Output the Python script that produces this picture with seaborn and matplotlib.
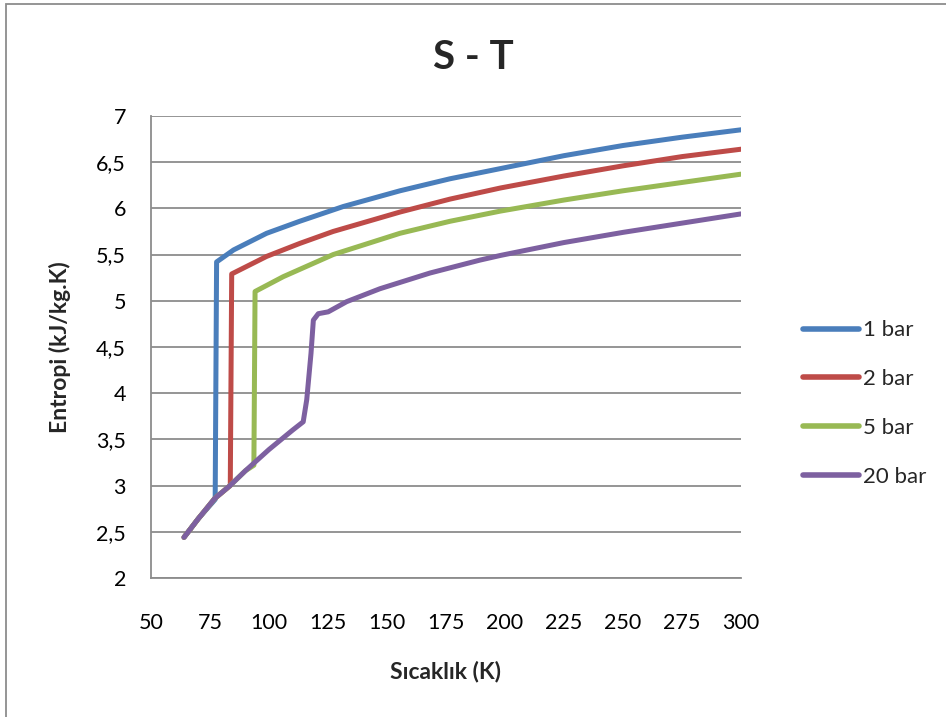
import matplotlib
matplotlib.use("Agg")
import matplotlib.pyplot as plt
import seaborn as sns
import pandas as pd
from matplotlib.ticker import FuncFormatter
from matplotlib.patches import Rectangle

# ---- data ----
series_names = ["1 bar", "2 bar", "5 bar", "20 bar"]

t_1bar = [64, 70, 77.2, 77.8, 85, 99, 113, 131.5, 155.5, 176.7, 198, 225, 250, 275, 300]
s_1bar = [2.44, 2.64, 2.85, 5.42, 5.55, 5.73, 5.86, 6.02, 6.19, 6.32, 6.43, 6.57, 6.68, 6.77, 6.85]

t_2bar = [64, 70, 77, 83.6, 84.2, 99, 113, 127.2, 155.5, 176.7, 198, 225, 250, 275, 300]
s_2bar = [2.44, 2.64, 2.86, 3.00, 5.29, 5.48, 5.62, 5.75, 5.96, 6.10, 6.22, 6.35, 6.46, 6.56, 6.64]

t_5bar = [64, 70, 77, 83.5, 90, 93.6, 94.1, 106, 127.2, 155.5, 176.7, 198, 225, 250, 275, 300]
s_5bar = [2.44, 2.64, 2.86, 3.00, 3.16, 3.22, 5.10, 5.26, 5.50, 5.73, 5.86, 5.97, 6.09, 6.19, 6.28, 6.37]

t_20bar = [64, 70, 77, 83.5, 90, 100, 110, 114.5, 116, 117.8, 118.8, 120.9, 125.1, 132.9, 147, 168.2, 189.4, 198, 225, 250, 275, 300]
s_20bar = [2.44, 2.64, 2.86, 3.00, 3.16, 3.39, 3.60, 3.69, 3.93, 4.43, 4.79, 4.86, 4.88, 4.99, 5.13, 5.30, 5.44, 5.49, 5.63, 5.74, 5.84, 5.94]

x_ticks = [50, 75, 100, 125, 150, 175, 200, 225, 250, 275, 300]
y_ticks = [2, 2.5, 3, 3.5, 4, 4.5, 5, 5.5, 6, 6.5, 7]

colors = ["#4A7EBB", "#BE4B48", "#98B954", "#7D60A0"]

frames = []
for name, t, s in zip(series_names, [t_1bar, t_2bar, t_5bar, t_20bar],
                      [s_1bar, s_2bar, s_5bar, s_20bar]):
    d = pd.DataFrame({"T": t, "S": s})
    d["Seri"] = name
    frames.append(d)
df = pd.concat(frames, ignore_index=True)

sns.set_style("white")
plt.rcParams["font.family"] = ["Lato", "DejaVu Sans"]

fig = plt.figure(figsize=(9.46, 7.17), dpi=100)
ax = fig.add_axes([0.1596, 0.1939, 0.6237, 0.6444])

sns.lineplot(data=df, x="T", y="S", hue="Seri", hue_order=series_names,
             palette=colors, sort=False, estimator=None,
             linewidth=3.6, ax=ax, legend=True)
for ln in ax.lines:
    ln.set_solid_capstyle("round")
    ln.set_solid_joinstyle("round")

ax.set_xlim(50, 300)
ax.set_ylim(2, 7)
ax.set_xticks(x_ticks)
ax.set_yticks(y_ticks)
ax.yaxis.set_major_formatter(FuncFormatter(lambda v, p: ("%g" % v).replace(".", ",")))
ax.tick_params(axis="both", length=0, labelsize=15.5, colors="black")
ax.tick_params(axis="x", pad=25)
ax.tick_params(axis="y", pad=18)

ax.grid(axis="y", color="#8C8C8C", linewidth=1.3)
ax.grid(axis="x", visible=False)
ax.set_axisbelow(True)
for side in ["top", "right"]:
    ax.spines[side].set_visible(False)
for side in ["left", "bottom"]:
    ax.spines[side].set_color("#8C8C8C")
    ax.spines[side].set_linewidth(1.3)

ax.set_xlabel("Sıcaklık (K)", fontsize=16.5, fontweight="bold", labelpad=20)
ax.set_ylabel("Entropi (kJ/kg.K)", fontsize=16.5, fontweight="bold", labelpad=18)
fig.text(0.5, 0.92, "S - T", ha="center", va="center", fontsize=29, fontweight="bold")

handles, labels = ax.get_legend_handles_labels()
ax.legend(handles, labels, loc="center left", bbox_to_anchor=(0.828, 0.437),
          bbox_transform=fig.transFigure, frameon=False, fontsize=16,
          handlelength=2.5, handletextpad=0.2, labelspacing=1.3)
for h in ax.get_legend().get_lines():
    h.set_linewidth(4)
    h.set_solid_capstyle("round")

fig.patches.append(Rectangle((0.006, -0.01), 1.1, 1.004, transform=fig.transFigure,
                             fill=False, edgecolor="#8C8C8C", linewidth=1.3))

fig.savefig("out.png", dpi=100)
